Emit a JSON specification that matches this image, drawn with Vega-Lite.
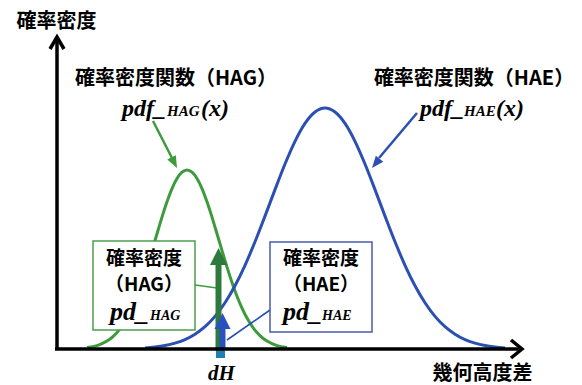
{
  "$schema": "https://vega.github.io/schema/vega-lite/v6.json",
  "width": 582,
  "height": 385,
  "autosize": {"type": "fit", "contains": "padding"},
  "padding": 0,
  "background": "white",
  "config": {"view": {"stroke": null}},
  "datasets": {
    "curves": [
      {"s":"HAG","u":3.0,"v":0.14},{"s":"HAG","u":4.0,"v":0.34},{"s":"HAG","u":5.0,"v":0.79},{"s":"HAG","u":5.5,"v":1.15},
      {"s":"HAG","u":6.0,"v":1.64},{"s":"HAG","u":6.5,"v":2.28},{"s":"HAG","u":7.0,"v":3.09},{"s":"HAG","u":7.5,"v":4.09},
      {"s":"HAG","u":8.0,"v":5.28},{"s":"HAG","u":8.5,"v":6.66},{"s":"HAG","u":9.0,"v":8.19},{"s":"HAG","u":9.5,"v":9.84},
      {"s":"HAG","u":10.0,"v":11.53},{"s":"HAG","u":10.5,"v":13.19},{"s":"HAG","u":11.0,"v":14.72},{"s":"HAG","u":11.5,"v":16.04},
      {"s":"HAG","u":12.0,"v":17.05},{"s":"HAG","u":12.5,"v":17.68},{"s":"HAG","u":13.0,"v":17.9},{"s":"HAG","u":13.5,"v":17.68},
      {"s":"HAG","u":14.0,"v":17.05},{"s":"HAG","u":14.5,"v":16.04},{"s":"HAG","u":15.0,"v":14.72},{"s":"HAG","u":15.5,"v":13.19},
      {"s":"HAG","u":16.0,"v":11.53},{"s":"HAG","u":16.5,"v":9.84},{"s":"HAG","u":17.0,"v":8.19},{"s":"HAG","u":17.5,"v":6.66},
      {"s":"HAG","u":18.0,"v":5.28},{"s":"HAG","u":18.5,"v":4.09},{"s":"HAG","u":19.0,"v":3.09},{"s":"HAG","u":19.5,"v":2.28},
      {"s":"HAG","u":20.0,"v":1.64},{"s":"HAG","u":20.5,"v":1.15},{"s":"HAG","u":21.0,"v":0.79},{"s":"HAG","u":22.0,"v":0.34},
      {"s":"HAG","u":23.0,"v":0.14},
      {"s":"HAE","u":8.8,"v":0.11},{"s":"HAE","u":9.8,"v":0.20},{"s":"HAE","u":10.8,"v":0.35},{"s":"HAE","u":11.8,"v":0.59},
      {"s":"HAE","u":12.8,"v":0.94},{"s":"HAE","u":13.8,"v":1.48},{"s":"HAE","u":14.8,"v":2.23},{"s":"HAE","u":15.8,"v":3.26},
      {"s":"HAE","u":16.8,"v":4.62},{"s":"HAE","u":17.8,"v":6.32},{"s":"HAE","u":18.8,"v":8.37},{"s":"HAE","u":19.8,"v":10.72},
      {"s":"HAE","u":20.8,"v":13.29},{"s":"HAE","u":21.8,"v":15.94},{"s":"HAE","u":22.8,"v":18.50},{"s":"HAE","u":23.8,"v":20.77},
      {"s":"HAE","u":24.8,"v":22.56},{"s":"HAE","u":25.8,"v":23.70},{"s":"HAE","u":26.8,"v":24.1},{"s":"HAE","u":27.8,"v":23.70},
      {"s":"HAE","u":28.8,"v":22.56},{"s":"HAE","u":29.8,"v":20.77},{"s":"HAE","u":30.8,"v":18.50},{"s":"HAE","u":31.8,"v":15.94},
      {"s":"HAE","u":32.8,"v":13.29},{"s":"HAE","u":33.8,"v":10.72},{"s":"HAE","u":34.8,"v":8.37},{"s":"HAE","u":35.8,"v":6.32},
      {"s":"HAE","u":36.8,"v":4.62},{"s":"HAE","u":37.8,"v":3.26},{"s":"HAE","u":38.8,"v":2.23},{"s":"HAE","u":39.8,"v":1.48},
      {"s":"HAE","u":40.8,"v":0.94},{"s":"HAE","u":41.8,"v":0.59},{"s":"HAE","u":42.8,"v":0.35},{"s":"HAE","u":43.8,"v":0.20},
      {"s":"HAE","u":44.8,"v":0.11}
    ]
  },
  "encoding": {
    "x": {"field": "u", "type": "quantitative", "scale": {"domain": [-5.7, 52.5], "nice": false, "zero": false}, "axis": null},
    "y": {"field": "v", "type": "quantitative", "scale": {"domain": [-3.6, 34.9], "nice": false, "zero": false}, "axis": null}
  },
  "layer": [
    {
      "data": {"name": "curves"},
      "mark": {"type": "line", "strokeWidth": 3, "interpolate": "monotone"},
      "encoding": {
        "color": {"field": "s", "type": "nominal", "scale": {"domain": ["HAG", "HAE"], "range": ["#3d9b3d", "#2b50b2"]}, "legend": null}
      }
    },
    {
      "data": {"values": [
        {"s": "HAG", "u": 3.6, "u2": 13.8, "v": 10.8, "v2": 1.9},
        {"s": "HAE", "u": 21.3, "u2": 31.5, "v": 10.7, "v2": 1.7}
      ]},
      "mark": {"type": "rect", "fill": "white", "strokeWidth": 1.5},
      "encoding": {
        "x2": {"field": "u2"},
        "y2": {"field": "v2"},
        "stroke": {"field": "s", "type": "nominal", "scale": {"domain": ["HAG", "HAE"], "range": ["#4a9f4a", "#4a5bb0"]}, "legend": null}
      }
    },
    {
      "data": {"values": [
        {"id": "gp", "s": "HAG", "o": 1, "u": 9.6, "v": 22.8},
        {"id": "gp", "s": "HAG", "o": 2, "u": 11.5, "v": 19.1},
        {"id": "bp", "s": "HAE", "o": 1, "u": 36.0, "v": 23.6},
        {"id": "bp", "s": "HAE", "o": 2, "u": 32.2, "v": 19.1}
      ]},
      "mark": {"type": "line", "strokeWidth": 2.5},
      "encoding": {
        "color": {"field": "s", "type": "nominal", "legend": null},
        "detail": {"field": "id"},
        "order": {"field": "o"}
      }
    },
    {
      "data": {"values": [
        {"id": "gl", "s": "HAG", "o": 1, "u": 13.8, "v": 6.4},
        {"id": "gl", "s": "HAG", "o": 2, "u": 16.0, "v": 6.1},
        {"id": "bl", "s": "HAE", "o": 1, "u": 21.3, "v": 3.9},
        {"id": "bl", "s": "HAE", "o": 2, "u": 17.0, "v": 0.9}
      ]},
      "mark": {"type": "line", "strokeWidth": 1.6},
      "encoding": {
        "color": {"field": "s", "type": "nominal", "legend": null},
        "detail": {"field": "id"},
        "order": {"field": "o"}
      }
    },
    {
      "data": {"values": [{"u": 12.0, "v": 18.1}]},
      "mark": {"type": "point", "shape": "M0,0L0.8,2L-0.8,2Z", "size": 144, "angle": 153, "filled": true, "opacity": 1, "color": "#3d9b3d"}
    },
    {
      "data": {"values": [{"u": 31.5, "v": 18.1}]},
      "mark": {"type": "point", "shape": "M0,0L0.8,2L-0.8,2Z", "size": 144, "angle": 219, "filled": true, "opacity": 1, "color": "#2b50b2"}
    },
    {
      "data": {"values": [{"u": 16.15, "v": 0, "v2": 8.6}]},
      "mark": {"type": "rule", "strokeWidth": 6, "color": "#2d7a3c"},
      "encoding": {"y2": {"field": "v2"}}
    },
    {
      "data": {"values": [{"u": 16.15, "v": 10.1}]},
      "mark": {"type": "point", "shape": "M0,0L1,2L-1,2Z", "size": 289, "filled": true, "opacity": 1, "color": "#2d7a3c"}
    },
    {
      "data": {"values": [{"u": 16.55, "v": 0, "v2": 2.3}]},
      "mark": {"type": "rule", "strokeWidth": 6, "color": "#2a52be"},
      "encoding": {"y2": {"field": "v2"}}
    },
    {
      "data": {"values": [{"u": 16.55, "v": 3.6}]},
      "mark": {"type": "point", "shape": "M0,0L1,2L-1,2Z", "size": 256, "filled": true, "opacity": 1, "color": "#2a52be"}
    },
    {
      "data": {"values": [{"u": 15.9, "u2": 16.8, "v": 0, "v2": -0.9}]},
      "mark": {"type": "rect", "color": "#1f7fb3"},
      "encoding": {"x2": {"field": "u2"}, "y2": {"field": "v2"}}
    },
    {
      "data": {"values": [
        {"id": "ya", "o": 1, "u": 0, "v": 0},
        {"id": "ya", "o": 2, "u": 0, "v": 31.0},
        {"id": "yh", "o": 1, "u": -0.7, "v": 30.0},
        {"id": "yh", "o": 2, "u": 0, "v": 31.2},
        {"id": "yh", "o": 3, "u": 0.7, "v": 30.0},
        {"id": "xa", "o": 1, "u": -0.2, "v": 0},
        {"id": "xa", "o": 2, "u": 46.3, "v": 0},
        {"id": "xh", "o": 1, "u": 45.4, "v": 0.9},
        {"id": "xh", "o": 2, "u": 46.5, "v": 0},
        {"id": "xh", "o": 3, "u": 45.4, "v": -0.9}
      ]},
      "mark": {"type": "line", "strokeWidth": 3.5, "color": "black", "strokeJoin": "miter", "strokeCap": "butt"},
      "encoding": {"detail": {"field": "id"}, "order": {"field": "o"}}
    },
    {
      "data": {"values": [
        {"t": "確率密度", "u": -0.05, "v": 32.75},
        {"t": "幾何高度差", "u": 42.55, "v": -2.45}
      ]},
      "mark": {"type": "text", "font": "Noto Sans CJK JP", "fontWeight": "bold", "fontSize": 20, "align": "center", "baseline": "middle", "color": "black"},
      "encoding": {"text": {"field": "t"}}
    },
    {
      "data": {"values": [
        {"t": "確率密度", "u": 8.7, "v": 9.0},
        {"t": "（HAG）", "u": 8.7, "v": 6.4},
        {"t": "確率密度", "u": 26.4, "v": 9.0},
        {"t": "（HAE）", "u": 26.4, "v": 6.4}
      ]},
      "mark": {"type": "text", "font": "Noto Sans CJK JP", "fontWeight": "bold", "fontSize": 19, "align": "center", "baseline": "middle", "color": "black"},
      "encoding": {"text": {"field": "t"}}
    },
    {
      "data": {"values": [
        {"t": "確率密度関数（HAG）", "u": 11.9, "v": 27.05},
        {"t": "確率密度関数（HAE）", "u": 41.7, "v": 27.05}
      ]},
      "mark": {"type": "text", "font": "Noto Sans CJK JP", "fontWeight": "bold", "fontSize": 20, "align": "center", "baseline": "middle", "color": "black"},
      "encoding": {"text": {"field": "t"}}
    },
    {
      "data": {"values": [
        {"t": "pdf_", "u": 6.5, "v": 23.3},
        {"t": "(x)", "u": 14.4, "v": 23.3},
        {"t": "pdf_", "u": 36.3, "v": 23.3},
        {"t": "(x)", "u": 43.9, "v": 23.3}
      ]},
      "mark": {"type": "text", "font": "Liberation Serif", "fontStyle": "italic", "fontWeight": "bold", "fontSize": 24, "align": "left", "baseline": "alphabetic", "color": "black"},
      "encoding": {"text": {"field": "t"}}
    },
    {
      "data": {"values": [
        {"t": "HAG", "u": 11.0, "v": 23.3},
        {"t": "HAE", "u": 40.7, "v": 23.3}
      ]},
      "mark": {"type": "text", "font": "Liberation Serif", "fontStyle": "italic", "fontWeight": "bold", "fontSize": 15, "align": "left", "baseline": "alphabetic", "color": "black"},
      "encoding": {"text": {"field": "t"}}
    },
    {
      "data": {"values": [
        {"t": "pd_", "u": 5.3, "v": 2.9},
        {"t": "pd_", "u": 22.6, "v": 2.9}
      ]},
      "mark": {"type": "text", "font": "Liberation Serif", "fontStyle": "italic", "fontWeight": "bold", "fontSize": 26, "align": "left", "baseline": "alphabetic", "color": "black"},
      "encoding": {"text": {"field": "t"}}
    },
    {
      "data": {"values": [
        {"t": "HAG", "u": 9.3, "v": 2.9},
        {"t": "HAE", "u": 26.5, "v": 2.9}
      ]},
      "mark": {"type": "text", "font": "Liberation Serif", "fontStyle": "italic", "fontWeight": "bold", "fontSize": 14, "align": "left", "baseline": "alphabetic", "color": "black"},
      "encoding": {"text": {"field": "t"}}
    },
    {
      "data": {"values": [{"t": "dH", "u": 16.45, "v": -3.1}]},
      "mark": {"type": "text", "font": "Liberation Serif", "fontStyle": "italic", "fontWeight": "bold", "fontSize": 21, "align": "center", "baseline": "alphabetic", "color": "black"},
      "encoding": {"text": {"field": "t"}}
    }
  ]
}
